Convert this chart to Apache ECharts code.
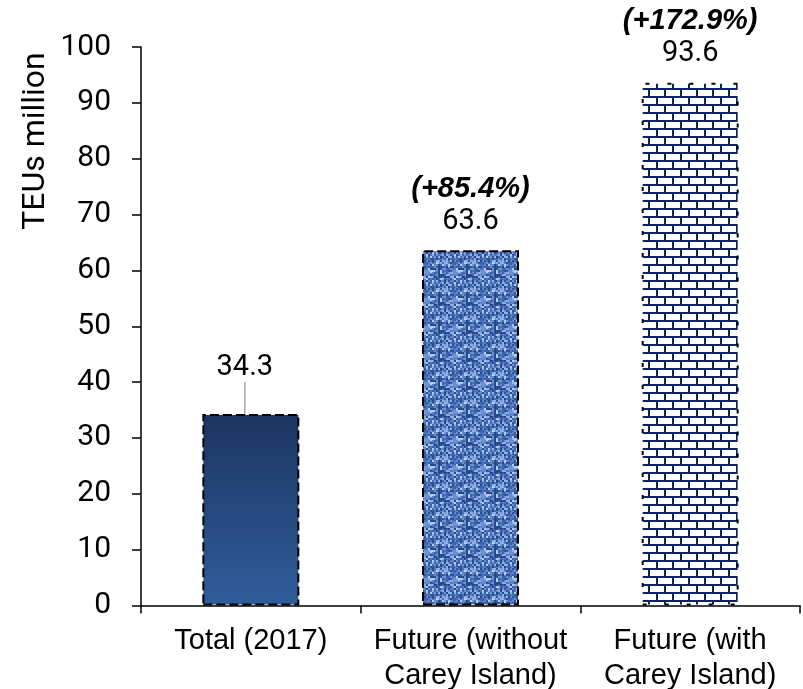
<!DOCTYPE html>
<html>
<head>
<meta charset="utf-8">
<script src="https://cdn.jsdelivr.net/npm/echarts@6/dist/echarts.min.js"></script>
<style>
    html, body { margin: 0; padding: 0; background: #fff; }
    #chart { width: 803px; height: 689px; }
</style>
</head>
<body>
<div id="chart"></div>
<script>
// chart data
const categories = ['Total (2017)', 'Future (without\nCarey Island)', 'Future (with\nCarey Island)'];
const teus = [34.3, 63.6, 93.6];
const growthLabels = ['', '(+85.4%)', '(+172.9%)'];
const yMin = 0;
const yMax = 100;
const yStep = 10;

// textured fill for the middle bar (fixed weave, no randomness)
function weavePattern() {
    const n = 28;
    const c = document.createElement('canvas');
    c.width = n; c.height = n;
    const g = c.getContext('2d');
    g.fillStyle = '#5f86c9';
    g.fillRect(0, 0, n, n);
    const shades = ['#2f5597', '#8fb0e6', '#4a72b8', '#b3cbf2', '#3d64a8', '#6e93d4', '#254a8a'];
    for (let y = 0; y < n; y += 2) {
        for (let x = 0; x < n; x += 2) {
            const h = ((x * 31 + y * 17) ^ (x * y * 7 + y)) % 9;
            if (h >= shades.length) continue;
            g.fillStyle = shades[h];
            // threads: alternate vertical / horizontal streaks
            if ((x + y) % 4 === 0) g.fillRect(x, y, 2, 3);
            else g.fillRect(x, y, 3, 2);
        }
    }
    return c;
}

// brick fill for the last bar
function brickPattern() {
    const c = document.createElement('canvas');
    c.width = 16; c.height = 16;
    const g = c.getContext('2d');
    g.fillStyle = '#ffffff';
    g.fillRect(0, 0, 16, 16);
    g.fillStyle = '#0b2561';
    g.fillRect(0, 0, 16, 2);
    g.fillRect(0, 8, 16, 2);
    g.fillRect(0, 0, 2, 8);
    g.fillRect(8, 8, 2, 8);
    return c;
}

const barStyles = [
    {
        color: new echarts.graphic.LinearGradient(0, 0, 0, 1, [
            { offset: 0, color: '#1c3460' },
            { offset: 1, color: '#2f5e9b' }
        ]),
        borderColor: '#000', borderWidth: 2, borderType: [9, 4]
    },
    {
        color: { image: weavePattern(), repeat: 'repeat' },
        borderColor: '#000', borderWidth: 2, borderType: [9, 4]
    },
    {
        color: { image: brickPattern(), repeat: 'repeat' },
        borderColor: '#000', borderWidth: 2, borderType: [4, 18]
    }
];

const chart = echarts.init(document.getElementById('chart'));

const seriesData = teus.map((v, i) => {
    const item = { value: v, itemStyle: barStyles[i] };
    if (i === 0) {
        item.labelLine = { show: true, lineStyle: { color: '#a6a6a6', width: 1.5 } };
    }
    return item;
});

chart.setOption({
    animation: false,
    grid: { left: 141, right: 3, top: 47, bottom: 83.5, containLabel: false, outerBoundsMode: 'none' },
    graphic: [{
        type: 'text',
        x: 36,
        y: 141,
        rotation: Math.PI / 2,
        style: {
            text: 'TEUs million',
            fontFamily: 'Roboto',
            fontSize: 32,
            fill: '#000',
            align: 'center',
            verticalAlign: 'middle'
        }
    }],
    xAxis: {
        type: 'category',
        data: categories,
        axisLine: { lineStyle: { color: '#000', width: 1.5 } },
        axisTick: { show: true, length: 8, lineStyle: { color: '#000', width: 1.5 } },
        axisLabel: {
            interval: 0,
            margin: 18,
            color: '#000',
            fontFamily: 'Liberation Sans',
            fontSize: 29,
            lineHeight: 35
        }
    },
    yAxis: {
        type: 'value',
        min: yMin,
        max: yMax,
        interval: yStep,
        splitLine: { show: false },
        axisLine: { show: true, lineStyle: { color: '#000', width: 1.5 } },
        axisTick: { show: true, length: 9, lineStyle: { color: '#000', width: 1.5 } },
        axisLabel: {
            margin: 30,
            color: '#000',
            fontFamily: 'Roboto',
            fontSize: 30
        }
    },
    series: [{
        type: 'bar',
        barWidth: 97,
        data: seriesData,
        label: {
            show: true,
            position: 'top',
            distance: 12,
            color: '#000',
            formatter: p => {
                const g = growthLabels[p.dataIndex];
                return g ? '{p|' + g + '}\n{v|' + p.value + '}' : '{v|' + p.value + '}';
            },
            rich: {
                p: {
                    fontFamily: 'Liberation Sans',
                    fontWeight: 'bold',
                    fontStyle: 'italic',
                    fontSize: 29,
                    lineHeight: 33,
                    color: '#000'
                },
                v: {
                    fontFamily: 'Roboto',
                    fontSize: 29,
                    lineHeight: 33,
                    color: '#000'
                }
            }
        },
        labelLayout: params => (params.dataIndex === 0 ? { dx: -6, dy: -18 } : {})
    }]
});
</script>
</body>
</html>
